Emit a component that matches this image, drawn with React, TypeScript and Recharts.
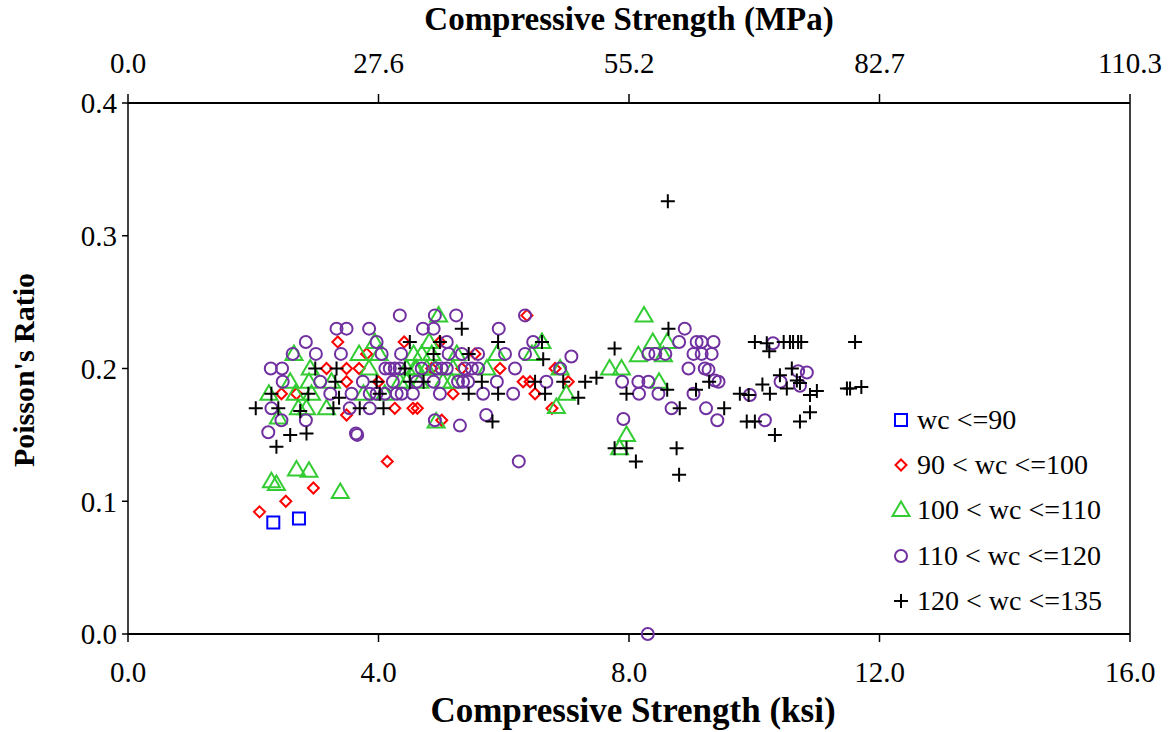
import {
  ScatterChart,
  Scatter,
  XAxis,
  YAxis,
  Legend,
} from "recharts";

const ksiTicks = [0, 4, 8, 12, 16];
const mpaLabels = ["0.0", "27.6", "55.2", "82.7", "110.3"];
const ratioTicks = [0, 0.1, 0.2, 0.3, 0.4];

// [ksi, poisson's ratio]
const wc90 = [
  [2.32, 0.084], [2.73, 0.087],
];

const wc100 = [
  [2.10, 0.092], [2.52, 0.100], [2.96, 0.110], [4.14, 0.130], [3.35, 0.220], [4.41, 0.220],
  [3.81, 0.211], [3.17, 0.200], [3.49, 0.200], [3.69, 0.200], [2.45, 0.181], [2.69, 0.181],
  [3.49, 0.190], [4.00, 0.190], [4.26, 0.170], [4.55, 0.170], [4.62, 0.170], [3.49, 0.165],
  [6.37, 0.240], [4.98, 0.220], [5.54, 0.211], [4.85, 0.200], [5.33, 0.200], [5.94, 0.200],
  [6.82, 0.200], [6.31, 0.190], [6.42, 0.190], [7.03, 0.190], [5.19, 0.181], [6.50, 0.181],
  [6.77, 0.170], [5.01, 0.161],
];

const wc110 = [
  [2.29, 0.115], [2.37, 0.113], [2.69, 0.124], [2.89, 0.123], [3.39, 0.107], [3.94, 0.220],
  [2.65, 0.211], [3.69, 0.211], [4.01, 0.211], [2.91, 0.200], [3.85, 0.200], [2.59, 0.190],
  [2.89, 0.190], [3.25, 0.190], [4.34, 0.190], [2.25, 0.181], [2.67, 0.181], [2.93, 0.181],
  [3.76, 0.181], [4.10, 0.181], [2.85, 0.170], [3.17, 0.170], [2.40, 0.163], [2.72, 0.170],
  [4.61, 0.200], [4.96, 0.240], [4.81, 0.220], [6.61, 0.220], [4.56, 0.211], [4.69, 0.211],
  [4.85, 0.211], [5.25, 0.211], [5.89, 0.211], [6.45, 0.211], [4.45, 0.200], [4.58, 0.200],
  [4.77, 0.200], [4.90, 0.200], [5.19, 0.200], [5.73, 0.200], [6.90, 0.200], [4.45, 0.190],
  [4.66, 0.190], [5.03, 0.190], [5.17, 0.190], [7.00, 0.181], [6.84, 0.171], [4.92, 0.160],
  [8.24, 0.240], [8.38, 0.220], [8.61, 0.220], [8.15, 0.210], [8.55, 0.210], [7.69, 0.200],
  [7.88, 0.200], [8.48, 0.190], [7.96, 0.150], [7.85, 0.140],
];

const wc120 = [
  [4.34, 0.240], [3.33, 0.230], [3.49, 0.230], [3.85, 0.230], [2.84, 0.220], [2.63, 0.211],
  [3.00, 0.211], [3.40, 0.211], [3.97, 0.220], [4.05, 0.211], [4.36, 0.211], [2.28, 0.200],
  [2.46, 0.200], [2.47, 0.190], [3.07, 0.190], [4.11, 0.200], [4.18, 0.200], [4.26, 0.200],
  [4.34, 0.200], [3.75, 0.190], [4.23, 0.190], [4.61, 0.190], [3.23, 0.181], [3.57, 0.181],
  [3.86, 0.181], [3.97, 0.181], [4.10, 0.181], [4.29, 0.181], [4.37, 0.181], [4.55, 0.181],
  [2.29, 0.170], [3.54, 0.170], [3.86, 0.170], [2.45, 0.161], [2.84, 0.161], [3.64, 0.151],
  [3.66, 0.150], [2.24, 0.152], [4.90, 0.240], [5.24, 0.240], [6.34, 0.240], [4.71, 0.230],
  [4.88, 0.230], [5.92, 0.230], [5.09, 0.220], [6.47, 0.220], [5.12, 0.211], [5.33, 0.211],
  [5.59, 0.211], [6.02, 0.211], [6.34, 0.211], [7.08, 0.209], [4.69, 0.200], [4.92, 0.200],
  [5.01, 0.200], [5.09, 0.200], [5.38, 0.200], [5.49, 0.200], [5.59, 0.200], [6.18, 0.200],
  [6.90, 0.200], [4.88, 0.190], [5.27, 0.190], [5.35, 0.190], [5.43, 0.190], [5.89, 0.190],
  [6.68, 0.190], [4.98, 0.181], [5.67, 0.181], [6.15, 0.181], [5.72, 0.165], [4.90, 0.161],
  [5.30, 0.157], [6.24, 0.130], [8.89, 0.230], [8.80, 0.220], [9.08, 0.220], [9.16, 0.220],
  [9.35, 0.220], [8.31, 0.211], [8.42, 0.211], [8.58, 0.211], [9.03, 0.211], [9.16, 0.211],
  [9.32, 0.211], [8.95, 0.200], [9.21, 0.200], [9.27, 0.199], [9.37, 0.191], [9.43, 0.190],
  [7.89, 0.190], [8.15, 0.190], [8.31, 0.190], [8.16, 0.181], [8.47, 0.181], [9.03, 0.181],
  [8.68, 0.170], [9.23, 0.170], [7.91, 0.162], [9.41, 0.161], [9.93, 0.180], [10.17, 0.161],
  [10.30, 0.219], [10.42, 0.190], [10.70, 0.198], [10.84, 0.197], [10.73, 0.187], [8.30, 0.000],
];

const wc135 = [
  [4.50, 0.220], [2.99, 0.200], [3.33, 0.200], [4.42, 0.200], [3.31, 0.190], [3.97, 0.190],
  [4.50, 0.190], [2.29, 0.181], [2.88, 0.181], [3.37, 0.178], [4.02, 0.181], [2.04, 0.170],
  [2.40, 0.170], [2.75, 0.168], [3.28, 0.170], [3.70, 0.170], [4.08, 0.170], [2.59, 0.150],
  [2.85, 0.151], [2.37, 0.141], [5.33, 0.230], [4.98, 0.220], [5.91, 0.220], [6.61, 0.220],
  [4.88, 0.211], [5.44, 0.211], [6.63, 0.207], [4.72, 0.190], [5.65, 0.190], [6.50, 0.190],
  [6.95, 0.190], [7.30, 0.190], [7.48, 0.193], [5.44, 0.181], [5.91, 0.181], [6.66, 0.181],
  [7.19, 0.178], [5.82, 0.160], [8.63, 0.230], [7.77, 0.215], [7.96, 0.181], [8.61, 0.184],
  [9.07, 0.184], [9.28, 0.190], [8.81, 0.170], [9.52, 0.170], [9.77, 0.181], [9.91, 0.180],
  [10.13, 0.188], [10.25, 0.181], [10.01, 0.220], [10.20, 0.219], [10.24, 0.213], [9.88, 0.160],
  [10.01, 0.160], [10.47, 0.220], [10.57, 0.220], [10.62, 0.220], [10.70, 0.220], [10.75, 0.220],
  [11.61, 0.220], [10.60, 0.200], [10.41, 0.195], [10.68, 0.191], [10.73, 0.189], [10.52, 0.185],
  [10.89, 0.180], [11.00, 0.183], [10.89, 0.167], [10.73, 0.160], [11.48, 0.185], [11.53, 0.185],
  [11.71, 0.186], [7.77, 0.140], [7.96, 0.140], [8.11, 0.130], [8.76, 0.140], [8.80, 0.120],
  [10.33, 0.150], [8.62, 0.326],
];

const toPoints = (arr: number[][]) => arr.map(([x, y]) => ({ x, y }));

const FONT = "'Liberation Serif', 'Times New Roman', serif";

const Square = ({ cx, cy }: any) => (
  <rect x={cx - 6} y={cy - 6} width={12} height={12} fill="none" stroke="#0000ff" strokeWidth={2} />
);
const Diamond = ({ cx, cy }: any) => (
  <path d={`M${cx},${cy - 5.5}L${cx + 5.5},${cy}L${cx},${cy + 5.5}L${cx - 5.5},${cy}Z`} fill="none" stroke="#ff0000" strokeWidth={2} />
);
const Triangle = ({ cx, cy }: any) => (
  <path d={`M${cx},${cy - 8.5}L${cx + 8.5},${cy + 6}L${cx - 8.5},${cy + 6}Z`} fill="none" stroke="#33cc33" strokeWidth={2} />
);
const Circle = ({ cx, cy }: any) => (
  <circle cx={cx} cy={cy} r={6} fill="none" stroke="#7030a0" strokeWidth={2} />
);
const Cross = ({ cx, cy }: any) => (
  <path d={`M${cx - 7},${cy}h14M${cx},${cy - 7}v14`} stroke="#000" strokeWidth={2} />
);
const Nothing = () => <g />;

const series = [
  { name: "wc <=90", data: wc90, shape: Square },
  { name: "90 < wc <=100", data: wc100, shape: Diamond },
  { name: "100 < wc <=110", data: wc110, shape: Triangle },
  { name: "110 < wc <=120", data: wc120, shape: Circle },
  { name: "120 < wc <=135", data: wc135, shape: Cross },
];

const LegendBox = () => (
  <div style={{ fontFamily: FONT, fontSize: 28, color: "#000" }}>
    {series.map((s) => {
      const Shape = s.shape;
      return (
        <div key={s.name} style={{ display: "flex", alignItems: "center", height: 45.3 }}>
          <svg width={24} height={24} style={{ marginRight: 4 }}>
            <Shape cx={12} cy={12} />
          </svg>
          <span style={{ whiteSpace: "nowrap" }}>{s.name}</span>
        </div>
      );
    })}
  </div>
);

const tickStyle = { fontFamily: FONT, fontSize: 29, fill: "#000" };
const titleStyle = { fontFamily: FONT, fontWeight: "bold" as const, fill: "#000" };

export default function App() {
  return (
    <div style={{ position: "absolute", left: 0, top: 0, background: "#fff" }}>
      <ScatterChart width={1173} height={732} margin={{ top: 0, right: 42, bottom: 0, left: 0 }}>
        <XAxis
          xAxisId="bottom"
          type="number"
          dataKey="x"
          domain={[0, 16]}
          ticks={ksiTicks}
          tickFormatter={(v: number) => v.toFixed(1)}
          height={98}
          tickSize={8}
          tickMargin={19}
          tick={tickStyle}
          axisLine={{ stroke: "#000", strokeWidth: 2 }}
          tickLine={{ stroke: "#000", strokeWidth: 1.5 }}
          label={({ viewBox }: any) => (
            <text x={viewBox.x + viewBox.width / 2 + 4} y={722} textAnchor="middle" style={{ ...titleStyle, fontSize: 35 }}>
              Compressive Strength (ksi)
            </text>
          )}
        />
        <XAxis
          xAxisId="top"
          orientation="top"
          type="number"
          dataKey="x"
          domain={[0, 16]}
          ticks={ksiTicks}
          tickFormatter={(_v: number, i: number) => mpaLabels[i]}
          height={103}
          tickSize={9}
          tickMargin={21}
          tick={tickStyle}
          axisLine={{ stroke: "#000", strokeWidth: 2 }}
          tickLine={{ stroke: "#000", strokeWidth: 1.5 }}
          label={({ viewBox }: any) => (
            <text x={viewBox.x + viewBox.width / 2} y={30} textAnchor="middle" style={{ ...titleStyle, fontSize: 33 }}>
              Compressive Strength (MPa)
            </text>
          )}
        />
        <YAxis
          yAxisId="left"
          type="number"
          dataKey="y"
          domain={[0, 0.4]}
          ticks={ratioTicks}
          tickFormatter={(v: number) => v.toFixed(1)}
          width={128}
          tickSize={6}
          tickMargin={5}
          tick={tickStyle}
          axisLine={{ stroke: "#000", strokeWidth: 1.5 }}
          tickLine={{ stroke: "#000", strokeWidth: 1.5 }}
          label={() => (
            <text x={34} y={370} transform="rotate(-90 34 370)" textAnchor="middle" style={{ ...titleStyle, fontSize: 30 }}>
              Poisson's Ratio
            </text>
          )}
        />
        <YAxis
          yAxisId="right"
          orientation="right"
          type="number"
          dataKey="y"
          domain={[0, 0.4]}
          width={1}
          tick={false}
          tickLine={false}
          axisLine={{ stroke: "#000", strokeWidth: 1.5 }}
        />
        {series.map((s) => (
          <Scatter
            key={s.name}
            name={s.name}
            xAxisId="bottom"
            yAxisId="left"
            data={toPoints(s.data)}
            shape={s.shape}
            isAnimationActive={false}
          />
        ))}
        {/* same crosses again on the MPa and right axes, drawn as nothing, so those axes get a scale */}
        <Scatter
          name="mpa"
          xAxisId="top"
          yAxisId="right"
          data={toPoints(wc135)}
          shape={Nothing}
          legendType="none"
          isAnimationActive={false}
        />
        <Legend
          layout="vertical"
          align="center"
          verticalAlign="middle"
          content={() => <LegendBox />}
          wrapperStyle={{ position: "absolute", left: 889, top: 397, width: 240, bottom: "auto" }}
        />
      </ScatterChart>
    </div>
  );
}
